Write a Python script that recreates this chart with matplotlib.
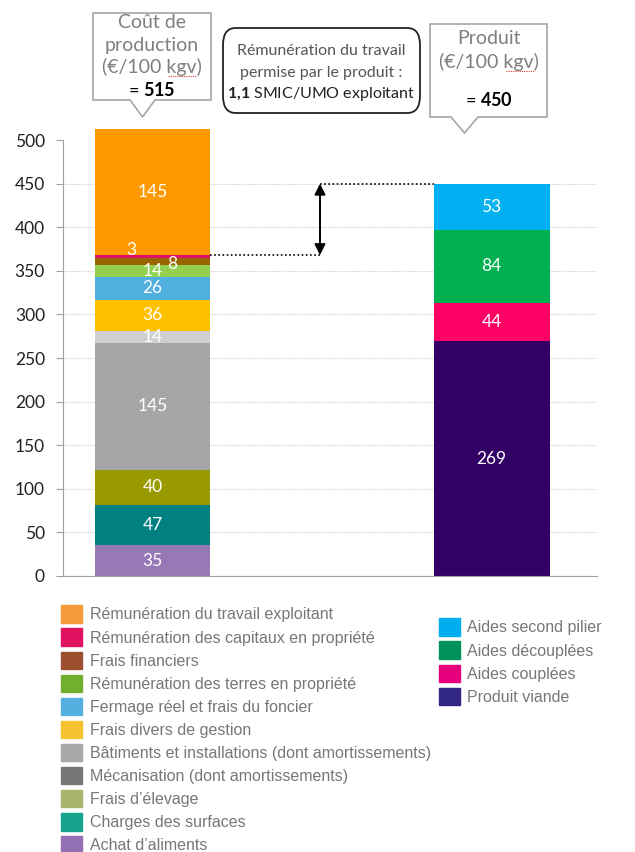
import matplotlib.pyplot as plt
from matplotlib.patches import Patch, FancyBboxPatch, Polygon

plt.rcParams["mathtext.fontset"] = "custom"
plt.rcParams["mathtext.rm"] = "Lato"
plt.rcParams["mathtext.bf"] = "Lato:bold"

# cost of production, stacked bottom -> top
cost_labels = ["Achat d\u2019aliments", "Charges des surfaces", "Frais d\u2019\u00e9levage",
               "M\u00e9canisation (dont amortissements)",
               "B\u00e2timents et installations (dont amortissements)",
               "Frais divers de gestion", "Fermage r\u00e9el et frais du foncier",
               "R\u00e9mun\u00e9ration des terres en propri\u00e9t\u00e9", "Frais financiers",
               "R\u00e9mun\u00e9ration des capitaux en propri\u00e9t\u00e9",
               "R\u00e9mun\u00e9ration du travail exploitant"]
cost_values = [35, 47, 40, 145, 14, 36, 26, 14, 8, 3, 145]
cost_colors = ["#9779b5", "#008080", "#999900", "#a6a6a6", "#d0d0d0", "#ffc000",
               "#4fb0e0", "#92d050", "#996600", "#e0106a", "#ff9900"]
cost_leg_colors = ["#9272b5", "#16a58c", "#aab46a", "#777777", "#a8a8a8", "#f5c330",
                   "#55b0e0", "#6fb02e", "#9b4f2f", "#e0115f", "#f39c39"]

# product, stacked bottom -> top
prod_labels = ["Produit viande", "Aides coupl\u00e9es", "Aides d\u00e9coupl\u00e9es",
               "Aides second pilier"]
prod_values = [269, 44, 84, 53]
prod_colors = ["#330066", "#ff0066", "#00b050", "#00b0f0"]
prod_leg_colors = ["#312783", "#e6007e", "#00925a", "#00aeef"]

cost_total = 515
prod_total = 450

W = 0.342
fig = plt.figure(figsize=(6.35, 8.52), dpi=100)
ax = fig.add_axes([63 / 635, 1 - 576 / 852, 534 / 635, (576 - 122.6) / 852])
ax.set_xlim(-0.264, 1.311)
ax.set_ylim(0, 520)

lab_font = "Lato"

def stack(x, values, colors, offsets=None):
    bottom = 0
    for i, (v, c) in enumerate(zip(values, colors)):
        ax.bar(x, v, W, bottom=bottom, color=c, zorder=2)
        dx, dy = (0, 0)
        if offsets and i in offsets:
            dx, dy = offsets[i]
        ax.text(x + dx, bottom + v / 2 + dy, str(v), ha="center", va="center",
                color="white", fontsize=12.5, family=lab_font, zorder=3)
        bottom += v

stack(0, cost_values, cost_colors, offsets={8: (0.058, -3), 9: (-0.063, 7.5)})
stack(1, prod_values, prod_colors)

# gap arrow
top_costs = sum(cost_values[:-1])
ax.plot([W / 2, 0.494], [top_costs, top_costs], color="black", ls=(0, (1, 1.5)), lw=1.2, zorder=3)
ax.plot([0.494, 1 - W / 2], [prod_total, prod_total], color="black", ls=(0, (1, 1.5)), lw=1.2, zorder=3)
ax.annotate("", xy=(0.494, prod_total), xytext=(0.494, top_costs),
            arrowprops=dict(arrowstyle="<|-|>", color="black", lw=1.4, mutation_scale=16,
                            shrinkA=0, shrinkB=0))

ax.set_yticks(range(0, 501, 50))
ax.grid(axis="y", color="#d0d0d0", ls=(0, (1, 1)), lw=0.8, zorder=0)
ax.yaxis.get_gridlines()[-1].set_visible(False)
ax.set_xticks([])
for s in ["top", "right"]:
    ax.spines[s].set_visible(False)
ax.spines["left"].set_bounds(0, 500)
ax.spines["left"].set_color("#a0a0a0")
ax.spines["bottom"].set_color("#a0a0a0")
ax.tick_params(axis="y", length=5, color="#a0a0a0", labelsize=12.5, labelcolor="#222222", pad=8)
for t in ax.get_yticklabels():
    t.set_family(lab_font)

# legends
h1 = [Patch(color=c) for c in cost_leg_colors[::-1]]
l1 = cost_labels[::-1]
fig.legend(h1, l1, loc="upper left", bbox_to_anchor=(55 / 635, 1 - 599 / 852),
           frameon=False, prop={"family": "Liberation Sans", "size": 11.5},
           labelcolor="#777777", handlelength=1.3, handleheight=1.3,
           labelspacing=0.355, handletextpad=0.5, borderaxespad=0)
h2 = [Patch(color=c) for c in prod_leg_colors[::-1]]
l2 = prod_labels[::-1]
fig.legend(h2, l2, loc="upper left", bbox_to_anchor=(433 / 635, 1 - 612 / 852),
           frameon=False, prop={"family": "Liberation Sans", "size": 11.5},
           labelcolor="#777777", handlelength=1.3, handleheight=1.3,
           labelspacing=0.355, handletextpad=0.4, borderaxespad=0)

# callouts (pixel coordinates converted to figure fraction)
def fx(px):
    return px / 635

def fy(py):
    return 1 - py / 852

def callout(x0, x1, y0, y1, tx0, tx1, tip):
    pts = [(x0, y0), (x1, y0), (x1, y1), (tx1, y1), ((tx0 + tx1) / 2, tip), (tx0, y1), (x0, y1)]
    fig.patches.append(Polygon([(fx(a), fy(b)) for a, b in pts], closed=True,
                               transform=fig.transFigure, facecolor="white",
                               edgecolor="#a6a6a6", lw=1.2))

callout(93, 211, 13, 100, 130, 155, 117)
callout(430, 547, 24, 117, 451, 478, 133)

gray = "#7f7f7f"
fig.text(fx(152), fy(23), "Co\u00fbt de", ha="center", va="center", fontsize=14, color=gray, family=lab_font)
fig.text(fx(152), fy(45), "production", ha="center", va="center", fontsize=14, color=gray, family=lab_font)
fig.text(fx(152), fy(67), "(\u20ac/100 kgv)", ha="center", va="center", fontsize=14, color=gray, family=lab_font)
fig.text(fx(152), fy(90), "= $\\mathbf{515}$", ha="center", va="center", fontsize=13, color="black", family=lab_font)

fig.text(fx(489), fy(39), "Produit", ha="center", va="center", fontsize=14, color=gray, family=lab_font)
fig.text(fx(489), fy(62), "(\u20ac/100 kgv)", ha="center", va="center", fontsize=14, color=gray, family=lab_font)
fig.text(fx(489), fy(100), "= $\\mathbf{450}$", ha="center", va="center", fontsize=13, color="black", family=lab_font)

# spelling squiggles under kgv
for x0, yy in [(168, 76), (506, 71)]:
    fig.lines.append(plt.Line2D([fx(x0), fx(x0 + 28)], [fy(yy), fy(yy)], transform=fig.transFigure,
                                color="#e04040", lw=0.8, ls=(0, (1, 1))))

box = FancyBboxPatch((fx(223), fy(113)), fx(197), (113 - 28) / 852,
                     boxstyle="round,pad=0,rounding_size=0.02", transform=fig.transFigure,
                     facecolor="white", edgecolor="#222222", lw=1.3)
fig.patches.append(box)
fig.text(fx(321), fy(51), "R\u00e9mun\u00e9ration du travail", ha="center", va="center",
         fontsize=11.5, color="#555555", family=lab_font)
fig.text(fx(321), fy(73), "permise par le produit :", ha="center", va="center",
         fontsize=11.5, color="#555555", family=lab_font)
fig.text(fx(321), fy(94), "$\\mathbf{1{,}1}$ SMIC/UMO exploitant", ha="center", va="center",
         fontsize=11.5, color="#222222", family=lab_font)

fig.savefig("out.png", dpi=100)
